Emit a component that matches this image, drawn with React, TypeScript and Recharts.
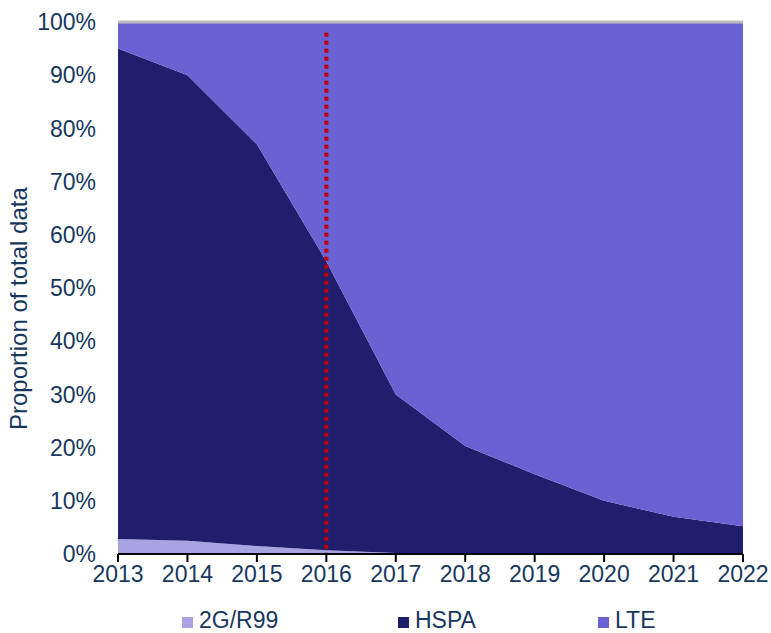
import { AreaChart, Area, XAxis, YAxis, ReferenceLine } from 'recharts';

const YEARS = [2013, 2014, 2015, 2016, 2017, 2018, 2019, 2020, 2021, 2022];
const G2_R99 = [2.8, 2.5, 1.5, 0.7, 0.2, 0.1, 0, 0, 0, 0];
const HSPA = [92.2, 87.5, 75.5, 54.3, 29.8, 20.2, 15, 10, 7, 5.2];
const LTE = [5, 10, 23, 45, 70, 79.7, 85, 90, 93, 94.8];
const Y_TICKS = [0, 10, 20, 30, 40, 50, 60, 70, 80, 90, 100];

const TEXT = '#17375E';
const COLORS = { g2: '#A8A4E4', hspa: '#221E6E', lte: '#6A62D3' };
const LEGEND = [
  { key: 'g2', label: '2G/R99', left: 182 },
  { key: 'hspa', label: 'HSPA', left: 398 },
  { key: 'lte', label: 'LTE', left: 598 },
] as const;

export default function App() {
  const data = YEARS.map((y, i) => ({ year: y, g2: G2_R99[i], hspa: HSPA[i], lte: LTE[i] }));

  return (
    <div style={{ position: 'absolute', left: 0, top: 0, width: 771, height: 633, background: '#fff', fontFamily: '"Liberation Sans", Arial, sans-serif' }}>
      <AreaChart width={771} height={633} data={data} margin={{ top: 22, right: 28, bottom: 35, left: 0 }}>
        <XAxis
          dataKey="year"
          height={44}
          tick={{ fill: TEXT, fontSize: 23 }}
          tickLine={{ stroke: '#000', strokeWidth: 2 }}
          tickSize={8}
          axisLine={{ stroke: '#000', strokeWidth: 2 }}
          tickMargin={4}
        />
        <YAxis
          domain={[0, 100]}
          ticks={Y_TICKS}
          width={118}
          tickFormatter={(v) => `${v}%`}
          tick={{ fill: TEXT, fontSize: 23 }}
          axisLine={false}
          tickLine={false}
          tickMargin={16}
          interval={0}
          label={{ value: 'Proportion of total data', angle: -90, position: 'insideLeft', offset: 18, dy: 142, style: { fill: TEXT, fontSize: 24 } }}
        />
        <Area type="linear" dataKey="g2" stackId="a" stroke="none" fill={COLORS.g2} fillOpacity={1} isAnimationActive={false} />
        <Area type="linear" dataKey="hspa" stackId="a" stroke="none" fill={COLORS.hspa} fillOpacity={1} isAnimationActive={false} />
        <Area type="linear" dataKey="lte" stackId="a" stroke="none" fill={COLORS.lte} fillOpacity={1} isAnimationActive={false} />
        <ReferenceLine y={100} stroke="#BDBDBD" strokeWidth={3} />
        <ReferenceLine
          segment={[{ x: 2016, y: 98 }, { x: 2016, y: 0 }]}
          stroke="#C00000"
          strokeWidth={4}
          strokeDasharray="4 4"
        />
      </AreaChart>
      {LEGEND.map((l) => (
        <div key={l.key} style={{ position: 'absolute', left: l.left, top: 607, display: 'flex', alignItems: 'center', gap: 6, lineHeight: '26px' }}>
          <span style={{ width: 11, height: 11, background: COLORS[l.key], display: 'inline-block', marginTop: 4 }} />
          <span style={{ color: TEXT, fontSize: 23 }}>{l.label}</span>
        </div>
      ))}
    </div>
  );
}
